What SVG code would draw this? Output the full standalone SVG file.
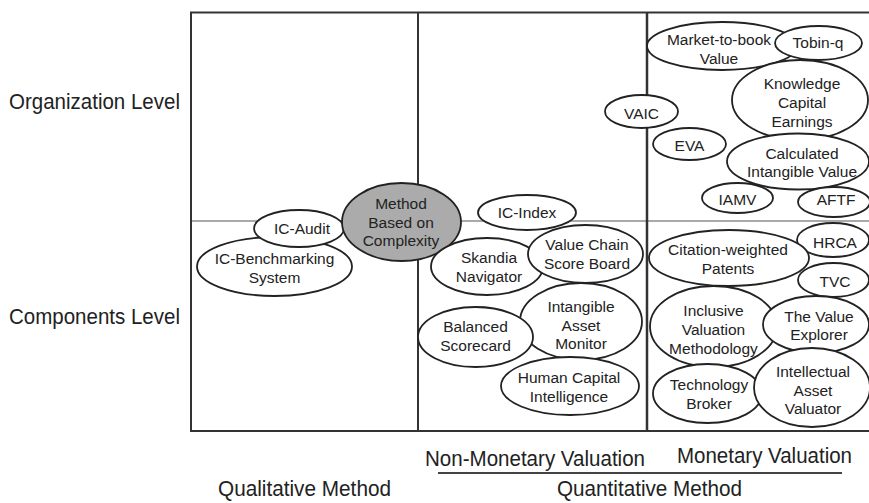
<svg xmlns="http://www.w3.org/2000/svg" width="869" height="503" viewBox="0 0 869 503">
<style>
  .lbl { font-family: "Liberation Sans", Arial, sans-serif; font-size: 22px; fill: #222; }
  .nt { font-family: "Liberation Sans", Arial, sans-serif; font-size: 15.5px; fill: #222; text-anchor: middle; }
  .el { fill: #fff; stroke: #222; stroke-width: 1.8; }
  .gray { fill: #ababab; stroke: #222; stroke-width: 1.8; }
  .frame { stroke: #333; stroke-width: 2; fill: none; }
  .mid { stroke: #555; stroke-width: 1.2; fill: none; }
</style>
<rect width="869" height="503" fill="#fff"/>
<g id="grid">
  <line class="mid" x1="191" y1="221" x2="869" y2="221"/>
  <line class="frame" x1="190" y1="12.5" x2="869" y2="12.5"/>
  <line class="frame" x1="191" y1="12.5" x2="191" y2="431"/>
  <line class="frame" x1="418" y1="12.5" x2="418" y2="431"/>
  <line class="frame" x1="647" y1="12.5" x2="647" y2="431" style="stroke-width:2.5"/>
  <line class="frame" x1="190" y1="431" x2="869" y2="431"/>
  <line class="frame" x1="438" y1="473" x2="842" y2="473" style="stroke:#444"/>
</g>
<g id="labels">
  <text class="lbl" x="9" y="109" textLength="171" lengthAdjust="spacingAndGlyphs">Organization Level</text>
  <text class="lbl" x="9" y="324" textLength="171" lengthAdjust="spacingAndGlyphs">Components Level</text>
  <text class="lbl" x="425" y="466" textLength="220" lengthAdjust="spacingAndGlyphs">Non-Monetary Valuation</text>
  <text class="lbl" x="677" y="463" textLength="175" lengthAdjust="spacingAndGlyphs">Monetary Valuation</text>
  <text class="lbl" x="218" y="496" textLength="173" lengthAdjust="spacingAndGlyphs">Qualitative Method</text>
  <text class="lbl" x="557" y="496" textLength="185" lengthAdjust="spacingAndGlyphs">Quantitative Method</text>
</g>
<g id="connectors"></g>
<g id="ic-benchmarking">
  <ellipse class="el" cx="274.5" cy="266.5" rx="77.5" ry="29.5"/>
  <text class="nt" x="274.5" y="264">IC-Benchmarking</text>
  <text class="nt" x="274.5" y="283">System</text>
</g>
<g id="ic-audit">
  <ellipse class="el" cx="299" cy="228.5" rx="45" ry="18.5"/>
  <text class="nt" x="302" y="234">IC-Audit</text>
</g>
<g id="method-complexity">
  <ellipse class="gray" cx="401.5" cy="222" rx="59.5" ry="39"/>
  <text class="nt" x="401" y="209">Method</text>
  <text class="nt" x="401" y="227.5">Based on</text>
  <text class="nt" x="401" y="246">Complexity</text>
</g>
<g id="ic-index">
  <ellipse class="el" cx="527" cy="212.5" rx="49" ry="17.5"/>
  <text class="nt" x="527" y="218">IC-Index</text>
</g>
<g id="skandia">
  <ellipse class="el" cx="487" cy="266.5" rx="56" ry="28.5"/>
  <text class="nt" x="489" y="263">Skandia</text>
  <text class="nt" x="489" y="282">Navigator</text>
</g>
<g id="value-chain">
  <ellipse class="el" cx="585.5" cy="254" rx="57.5" ry="29"/>
  <text class="nt" x="587" y="250">Value Chain</text>
  <text class="nt" x="587" y="268.5">Score Board</text>
</g>
<g id="intangible-asset-monitor">
  <ellipse class="el" cx="581" cy="321.5" rx="61" ry="38.5"/>
  <text class="nt" x="581" y="312">Intangible</text>
  <text class="nt" x="581" y="331">Asset</text>
  <text class="nt" x="581" y="349">Monitor</text>
</g>
<g id="balanced-scorecard">
  <ellipse class="el" cx="475.5" cy="337" rx="57.5" ry="30"/>
  <text class="nt" x="475.5" y="332">Balanced</text>
  <text class="nt" x="475.5" y="350.5">Scorecard</text>
</g>
<g id="human-capital">
  <ellipse class="el" cx="570" cy="386" rx="69" ry="29"/>
  <text class="nt" x="569" y="383">Human Capital</text>
  <text class="nt" x="569" y="402">Intelligence</text>
</g>
<g id="vaic">
  <ellipse class="el" cx="641.5" cy="111.5" rx="36.5" ry="16.5"/>
  <text class="nt" x="641.5" y="119">VAIC</text>
</g>
<g id="market-to-book">
  <ellipse class="el" cx="722" cy="46" rx="75" ry="24"/>
  <text class="nt" x="719" y="45">Market-to-book</text>
  <text class="nt" x="719" y="63.5">Value</text>
</g>
<g id="tobin-q">
  <ellipse class="el" cx="818.5" cy="43" rx="43.5" ry="17"/>
  <text class="nt" x="818" y="48">Tobin-q</text>
</g>
<g id="knowledge-capital">
  <ellipse class="el" cx="800" cy="100" rx="68" ry="40"/>
  <text class="nt" x="802" y="89">Knowledge</text>
  <text class="nt" x="802" y="108">Capital</text>
  <text class="nt" x="802" y="127">Earnings</text>
</g>
<g id="eva">
  <ellipse class="el" cx="689.5" cy="144" rx="36.5" ry="16"/>
  <text class="nt" x="689.5" y="151">EVA</text>
</g>
<g id="calculated-intangible">
  <ellipse class="el" cx="798" cy="161.5" rx="71" ry="28"/>
  <text class="nt" x="802" y="159">Calculated</text>
  <text class="nt" x="802" y="177">Intangible Value</text>
</g>
<g id="iamv">
  <ellipse class="el" cx="737.5" cy="198" rx="35.5" ry="15"/>
  <text class="nt" x="737.5" y="205">IAMV</text>
</g>
<g id="aftf">
  <ellipse class="el" cx="834" cy="202" rx="36" ry="15"/>
  <text class="nt" x="836" y="205">AFTF</text>
</g>
<g id="hrca">
  <ellipse class="el" cx="833" cy="240" rx="36" ry="17"/>
  <text class="nt" x="835" y="248">HRCA</text>
</g>
<g id="citation-weighted">
  <ellipse class="el" cx="729" cy="258" rx="80" ry="28"/>
  <text class="nt" x="728" y="255">Citation-weighted</text>
  <text class="nt" x="728" y="273.5">Patents</text>
</g>
<g id="tvc">
  <ellipse class="el" cx="833.5" cy="280" rx="35.5" ry="17"/>
  <text class="nt" x="835" y="287">TVC</text>
</g>
<g id="inclusive-valuation">
  <ellipse class="el" cx="713.5" cy="326.5" rx="63.5" ry="40.5"/>
  <text class="nt" x="713.5" y="316">Inclusive</text>
  <text class="nt" x="713.5" y="335">Valuation</text>
  <text class="nt" x="713.5" y="353.5">Methodology</text>
</g>
<g id="value-explorer">
  <ellipse class="el" cx="816" cy="324.5" rx="53" ry="28.5"/>
  <text class="nt" x="819" y="322">The Value</text>
  <text class="nt" x="819" y="340">Explorer</text>
</g>
<g id="technology-broker">
  <ellipse class="el" cx="707.5" cy="393.5" rx="54.5" ry="29.5"/>
  <text class="nt" x="709" y="390">Technology</text>
  <text class="nt" x="709" y="408.5">Broker</text>
</g>
<g id="intellectual-asset-valuator">
  <ellipse class="el" cx="812" cy="387.5" rx="58" ry="39.5"/>
  <text class="nt" x="813" y="377">Intellectual</text>
  <text class="nt" x="813" y="395.5">Asset</text>
  <text class="nt" x="813" y="413.5">Valuator</text>
</g>
</svg>
